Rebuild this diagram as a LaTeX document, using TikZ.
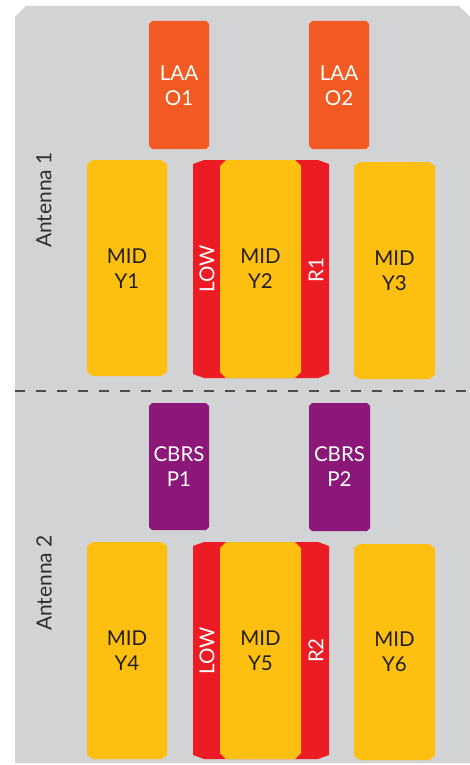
\documentclass[tikz,border=0pt]{standalone}
\usepackage{fontspec}
\setmainfont{Lato}
\definecolor{bggray}{HTML}{D1D3D4}
\definecolor{laaor}{HTML}{F15A22}
\definecolor{midyel}{HTML}{FEC010}
\definecolor{lowred}{HTML}{ED1C24}
\definecolor{cbrspur}{HTML}{8B1878}
\definecolor{dashgray}{HTML}{4D4D4F}
\definecolor{darktext}{HTML}{231F20}
\definecolor{anttext}{HTML}{2E2E30}
\newcommand\chamfbox[7]{%
  \fill[#7] (#1+#5,#2) -- (#3-#5,#2) -- (#3,#2+#6) -- (#3,#4-#6) -- (#3-#5,#4)
    -- (#1+#5,#4) -- (#1,#4-#6) -- (#1,#2+#6) -- cycle;}
\begin{document}
\begin{tikzpicture}[x=1pt,y=-1pt,
  whitelbl/.style={text=white,font=\fontsize{20.5}{25}\selectfont,align=center,inner sep=0pt},
  darklbl/.style={text=darktext,font=\fontsize{20.5}{25}\selectfont,align=center,inner sep=0pt},
  antlbl/.style={text=anttext,font=\fontsize{21}{24}\selectfont,rotate=90,inner sep=0pt},
  divider/.style={draw=dashgray,line width=2.8pt,dash pattern=on 10pt off 11pt}]
\useasboundingbox (0,0) rectangle (470,765);
% background
\fill[bggray] (15,17) -- (26,6) -- (459,6) -- (470,17) -- (470,763) -- (15,763) -- cycle;
% divider
\coordinate (dl) at (15,391);
\coordinate (dr) at (470,391);
\draw[divider] (dl) -- (dr);
% antenna labels
\node[antlbl] (ant1) at (44,200) {Antenna 1};
\node[antlbl] (ant2) at (44,583) {Antenna 2};
% top section
\chamfbox{149}{21}{209}{149}{3}{3}{laaor}
\node[whitelbl] (o1) at (179,86) {LAA\\O1};
\chamfbox{309}{21}{369}{149}{3}{3}{laaor}
\node[whitelbl] (o2) at (339,86) {LAA\\O2};
\chamfbox{87}{160}{167}{376}{6}{4}{midyel}
\node[darklbl] (y1) at (127,269) {MID\\Y1};
\chamfbox{193}{160}{329}{378}{11}{4}{lowred}
\chamfbox{220}{160}{301}{378}{6}{6}{midyel}
\node[darklbl] (y2) at (260.5,269) {MID\\Y2};
\node[whitelbl,rotate=90] (low1) at (207,269) {LOW};
\node[whitelbl,rotate=90] (r1) at (316,270) {R1};
\chamfbox{354}{162}{435}{379}{6}{4}{midyel}
\node[darklbl] (y3) at (394.5,271) {MID\\Y3};
% bottom section
\chamfbox{149}{403}{209}{530}{3}{3}{cbrspur}
\node[whitelbl] (p1) at (179,467) {CBRS\\P1};
\chamfbox{309}{403}{370}{531}{3}{3}{cbrspur}
\node[whitelbl] (p2) at (339.5,467) {CBRS\\P2};
\chamfbox{87}{542}{167}{759}{6}{4}{midyel}
\node[darklbl] (y4) at (127,651) {MID\\Y4};
\chamfbox{193}{542}{329}{759}{11}{4}{lowred}
\chamfbox{220}{542}{301}{759}{6}{6}{midyel}
\node[darklbl] (y5) at (260.5,651) {MID\\Y5};
\node[whitelbl,rotate=90] (low2) at (207,650.5) {LOW};
\node[whitelbl,rotate=90] (r2) at (316,650.5) {R2};
\chamfbox{354}{544}{435}{760}{6}{4}{midyel}
\node[darklbl] (y6) at (394.5,652) {MID\\Y6};
\end{tikzpicture}
\end{document}
